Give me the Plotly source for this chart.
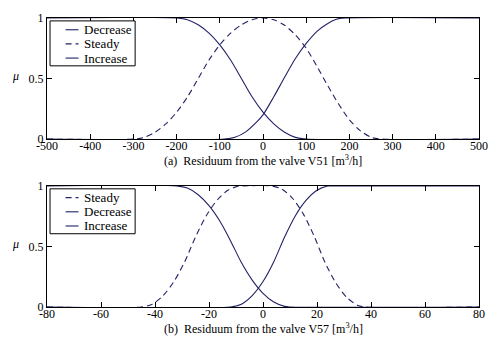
import plotly.graph_objects as go
from plotly.subplots import make_subplots

# ---- data (membership values) ----
a_dec_x = [-500, -200, -175, -150, -125, -100, -75, -50, -25, 0, 25, 50, 75, 100, 500]
a_dec_y = [1, 1, 0.986, 0.944, 0.875, 0.778, 0.653, 0.5, 0.347, 0.222, 0.125, 0.056, 0.014, 0, 0]
a_std_x = [-500, -300, -275, -250, -225, -200, -175, -150, -125, -100, -75, -50, -25, 0,
           25, 50, 75, 100, 125, 150, 175, 200, 225, 250, 275, 500]
a_std_y = [0, 0, 0.014, 0.056, 0.125, 0.222, 0.347, 0.5, 0.653, 0.778, 0.875, 0.944, 0.986, 1,
           0.985, 0.94, 0.86, 0.75, 0.6, 0.44, 0.29, 0.16, 0.07, 0.015, 0, 0]
a_inc_x = [-500, -90, -65, -40, -15, 0, 25, 50, 75, 100, 125, 150, 170, 190, 500]
a_inc_y = [0, 0, 0.015, 0.06, 0.14, 0.2, 0.35, 0.51, 0.665, 0.79, 0.89, 0.955, 0.99, 1, 1]

b_std_x = [-80, -45, -41, -37, -33, -29, -25, -21, -17, -13, -9, -8, 3, 7, 11, 15, 19, 23, 27, 31, 35, 38, 80]
b_std_y = [0, 0, 0.023, 0.094, 0.21, 0.374, 0.578, 0.754, 0.882, 0.964, 0.999, 1, 1,
           0.974, 0.896, 0.765, 0.582, 0.367, 0.198, 0.08, 0.015, 0, 0]
b_dec_x = [-80, -32, -28, -24, -20, -16, -12, -8, -4, 0, 4, 8, 10, 80]
b_dec_y = [1, 1, 0.982, 0.927, 0.837, 0.71, 0.546, 0.367, 0.222, 0.113, 0.041, 0.005, 0, 0]
b_inc_x = [-80, -12, -8, -4, 0, 4, 8, 12, 16, 20, 24, 25, 80]
b_inc_y = [0, 0, 0.023, 0.094, 0.21, 0.374, 0.578, 0.754, 0.882, 0.964, 0.999, 1, 1]

a_ticks = [-500, -400, -300, -200, -100, 0, 100, 200, 300, 400, 500]
b_ticks = [-80, -60, -40, -20, 0, 20, 40, 60, 80]
y_ticks = [0, 0.5, 1]
y_ticktext = ["0", "0.5", "1"]

a_title = "(a)  Residuum from the valve V51 [m<sup>3</sup>/h]"
b_title = "(b)  Residuum from the valve V57 [m<sup>3</sup>/h]"
a_legend = [("Decrease", "solid"), ("Steady", "dash"), ("Increase", "solid")]
b_legend = [("Steady", "dash"), ("Decrease", "solid"), ("Increase", "solid")]

COL = "#222266"
FONT = "Liberation Serif"
DASH = "6px,4px"

fig = make_subplots(rows=2, cols=1, vertical_spacing=0.162)

def add(x, y, dash, row, name):
    fig.add_trace(go.Scatter(x=x, y=y, mode="lines", name=name, showlegend=False,
                             line=dict(color=COL, width=1.1, dash=DASH if dash == "dash" else "solid",
                                       shape="spline", smoothing=0.8)),
                  row=row, col=1)

add(a_dec_x, a_dec_y, "solid", 1, "Decrease")
add(a_std_x, a_std_y, "dash", 1, "Steady")
add(a_inc_x, a_inc_y, "solid", 1, "Increase")
add(b_std_x, b_std_y, "dash", 2, "Steady")
add(b_dec_x, b_dec_y, "solid", 2, "Decrease")
add(b_inc_x, b_inc_y, "solid", 2, "Increase")

axcommon = dict(showgrid=False, zeroline=False, showline=True, linecolor="black", linewidth=1,
                mirror="ticks", ticks="inside", ticklen=5, tickcolor="black",
                tickfont=dict(family=FONT, size=12, color="black"))

fig.update_xaxes(range=[-500, 500], tickvals=a_ticks, ticktext=[str(t) for t in a_ticks],
                 ticklabelstandoff=-4, row=1, col=1, **axcommon)
fig.update_xaxes(range=[-80, 80], tickvals=b_ticks, ticktext=[str(t) for t in b_ticks],
                 ticklabelstandoff=-4, row=2, col=1, **axcommon)
fig.update_yaxes(range=[0, 1], tickvals=y_ticks, ticktext=y_ticktext, row=1, col=1, **axcommon)
fig.update_yaxes(range=[0, 1], tickvals=y_ticks, ticktext=y_ticktext, row=2, col=1, **axcommon)
fig.update_layout(xaxis=dict(domain=[0, 1]), yaxis=dict(domain=[0.581, 1]),
                  xaxis2=dict(domain=[0, 1]), yaxis2=dict(domain=[0, 0.419]))

shapes = []
annotations = []
for xref, yref, items, title, tpos in [("x domain", "y domain", a_legend, a_title, 0.581),
                                       ("x2 domain", "y2 domain", b_legend, b_title, 0.0)]:
    shapes.append(dict(type="rect", xref=xref, yref=yref, x0=0.007, x1=0.204, y0=0.605, y1=0.976,
                       line=dict(color="black", width=1), fillcolor="white", layer="above"))
    for i, (name, dash) in enumerate(items):
        yy = 0.903 - i * 0.117
        shapes.append(dict(type="line", xref=xref, yref=yref, x0=0.043, x1=0.073, y0=yy, y1=yy,
                           line=dict(color=COL, width=1.1, dash=DASH if dash == "dash" else "solid"),
                           layer="above"))
        annotations.append(dict(xref=xref, yref=yref, x=0.082, y=yy, text=name, showarrow=False,
                                xanchor="left", yanchor="middle",
                                font=dict(family=FONT, size=13, color="black")))
    annotations.append(dict(xref="paper", yref=yref, x=-0.072, y=0.52, text="<i>μ</i>", showarrow=False,
                            xanchor="center", yanchor="middle",
                            font=dict(family=FONT, size=12, color="black")))
    annotations.append(dict(xref="paper", yref="paper",
                            x=0.5, y=tpos - 0.073, text=title, showarrow=False,
                            xanchor="center", yanchor="middle",
                            font=dict(family=FONT, size=12, color="black")))

fig.update_layout(shapes=shapes, annotations=annotations,
                  width=499, height=344, margin=dict(l=47, r=12, t=11, b=37),
                  paper_bgcolor="white", plot_bgcolor="white", showlegend=False)

fig.write_html("out.html")
